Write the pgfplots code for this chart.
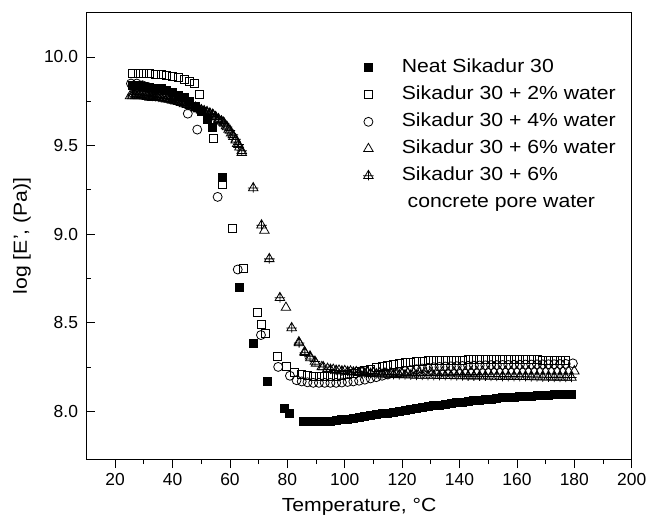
\documentclass[border=0pt]{standalone}
\usepackage{pgfplots}
\pgfplotsset{compat=1.18}
\usepackage{fontspec}
\setmainfont{Liberation Sans}[FakeStretch=1.12]
\newfontfamily\tickfont{Liberation Sans}
\pgfdeclareplotmark{tricross}{%
  \pgfpathmoveto{\pgfqpoint{0pt}{\pgfplotmarksize}}%
  \pgfpathlineto{\pgfqpoint{-0.866\pgfplotmarksize}{-0.5\pgfplotmarksize}}%
  \pgfpathlineto{\pgfqpoint{0.866\pgfplotmarksize}{-0.5\pgfplotmarksize}}%
  \pgfpathclose
  \pgfpathmoveto{\pgfqpoint{-0.95\pgfplotmarksize}{0pt}}%
  \pgfpathlineto{\pgfqpoint{0.95\pgfplotmarksize}{0pt}}%
  \pgfpathmoveto{\pgfqpoint{0pt}{\pgfplotmarksize}}%
  \pgfpathlineto{\pgfqpoint{0pt}{-0.85\pgfplotmarksize}}%
  \pgfusepathqstroke
}
\begin{document}
\begin{tikzpicture}
\begin{axis}[
  scale only axis, width=545.2bp, height=446.3bp,
  xmin=10, xmax=200, ymin=7.73, ymax=10.25,
  xtick={20,40,...,200}, ytick={8,8.5,9,9.5,10},
  minor x tick num=1, minor y tick num=1,
  xtick pos=bottom, ytick pos=left,
  xtick align=outside, ytick align=inside,
  major tick length=9bp, minor tick length=5bp,
  axis line style={line width=1bp},
  every tick/.style={line width=0.8bp, black},
  /pgf/number format/assume math mode=true,
  yticklabel style={/pgf/number format/fixed, /pgf/number format/fixed zerofill, /pgf/number format/precision=1, xshift=-5bp},
  ticklabel style={font=\tickfont\fontsize{17.5}{20}\selectfont},
  xticklabel style={yshift=-2bp},
  label style={font=\fontsize{19}{22}\selectfont},
  xlabel={Temperature, °C}, ylabel={log [E', (Pa)]},
  xlabel style={at={(axis description cs:0.5,-0.1076)}, anchor=center},
  ylabel style={at={(axis description cs:-0.1183,0.5)}, anchor=center},
  legend style={draw=none, fill=none, at={(axis description cs:0.505,0.896)}, anchor=north west,
    font=\fontsize{19}{22}\selectfont, row sep=10bp, inner sep=0pt,
    nodes={inner sep=0pt, text height=13bp, text depth=4bp}},
  legend cell align=left,
  legend image code/.code={\draw[#1] plot coordinates {(0bp,0bp)}; \path (-6bp,0bp) (33bp,0bp);},
  every axis plot/.append style={only marks, black, line width=0.8bp},
]
% Neat Sikadur 30
\addplot[mark=square*, mark size=4bp, fill=black] coordinates {
(26,9.84)(28,9.84)(30,9.835)(32,9.83)(34,9.825)(36,9.82)(38,9.81)(40,9.80)(42,9.785)(44,9.77)(46,9.75)(48,9.72)(50,9.69)(52,9.65)(54,9.60)
(57.2,9.32)(63.2,8.70)(68.0,8.38)(72.9,8.17)(78.9,8.015)(80.7,7.99)
(85.5,7.945)(87,7.94)(89,7.94)(91,7.94)(93,7.942)(95,7.945)(97,7.948)(99,7.952)(101,7.956)(103,7.96)(105,7.965)(107,7.97)(109,7.975)
(111,7.98)(113,7.985)(115,7.99)(117,7.995)(119,8.0)(121,8.005)(123,8.01)(125,8.015)(127,8.02)(129,8.025)(131,8.03)(133,8.035)(135,8.04)
(137,8.044)(139,8.048)(141,8.052)(143,8.056)(145,8.06)(147,8.063)(149,8.066)(151,8.069)(153,8.072)(155,8.075)(157,8.077)(159,8.079)
(161,8.081)(163,8.083)(165,8.085)(167,8.087)(169,8.089)(171,8.09)(173,8.092)(175,8.093)(177,8.094)(179,8.095)
};
\addlegendentry{Neat Sikadur 30}
% 2% water
\addplot[mark=square, mark size=4bp] coordinates {
(26,9.905)(28,9.905)(30,9.905)(32,9.905)(34,9.90)(36,9.90)(38,9.895)(40,9.89)(42,9.885)(44,9.875)(46,9.86)(47.5,9.85)(49.5,9.79)
(54.2,9.54)(57.4,9.28)(60.7,9.03)(64.6,8.805)(69.4,8.56)(70.8,8.49)(72.5,8.44)(76.6,8.31)(79.8,8.255)(82.6,8.22)
(85,8.205)(87,8.20)(89,8.197)(91,8.195)(93,8.195)(95,8.195)(97,8.197)(99,8.20)(101,8.21)(103,8.215)(105,8.222)(107,8.23)(109,8.238)
(111,8.245)(113,8.252)(115,8.259)(117,8.265)(119,8.27)(121,8.275)(123,8.278)(125,8.281)(127,8.283)(129,8.285)(131,8.286)(133,8.287)
(135,8.288)(137,8.288)(139,8.289)(141,8.289)(143,8.29)(145,8.29)(147,8.29)(149,8.29)(151,8.29)(153,8.29)(155,8.29)(157,8.29)
(159,8.29)(161,8.29)(163,8.29)(165,8.29)(167,8.29)(169,8.289)(171,8.289)(173,8.288)(175,8.287)(177,8.286)
};
\addlegendentry{Sikadur 30 + 2\% water}
% 4% water
\addplot[mark=o, mark size=4.5bp] coordinates {
(25.5,9.85)(27.5,9.85)(29.5,9.84)(31.5,9.83)(33.5,9.82)(35.6,9.81)(37.5,9.80)(39.1,9.79)(42,9.75)(45.3,9.68)(48.6,9.59)
(55.7,9.21)(62.7,8.80)(70.8,8.43)(76.8,8.25)(80.9,8.20)(83.2,8.175)
(85,8.168)(87,8.163)(89,8.16)(91,8.16)(93,8.16)(95,8.16)(97,8.16)(99,8.162)(101,8.165)(103,8.168)(105,8.172)(107,8.178)(109,8.185)
(111,8.192)(113,8.20)(115,8.207)(117,8.214)(119,8.22)(121,8.226)(123,8.232)(125,8.237)(127,8.241)(129,8.245)(131,8.248)(133,8.25)
(135,8.252)(137,8.253)(139,8.254)(141,8.255)(143,8.256)(145,8.257)(147,8.258)(149,8.259)(151,8.26)(153,8.26)(155,8.261)(157,8.261)
(159,8.262)(161,8.262)(163,8.263)(165,8.263)(167,8.264)(169,8.264)(171,8.265)(173,8.265)(175,8.266)(177,8.267)(179.5,8.27)
};
\addlegendentry{Sikadur 30 + 4\% water}
% 6% water
\addplot[mark=triangle, mark size=5.5bp] coordinates {
(25.2,9.78)(26,9.78)(27,9.78)(28,9.78)(29,9.78)(30,9.778)(31,9.775)(32,9.772)(33,9.77)(34,9.77)(35,9.77)(36,9.768)(37,9.765)(38,9.762)
(39,9.76)(40,9.755)(41,9.75)(42,9.747)(43,9.742)(44,9.735)(45,9.73)(46,9.725)(47,9.718)(48,9.71)(49,9.705)
(50,9.70)(51,9.692)(52,9.685)(53,9.678)(54.2,9.67)(55,9.66)(56,9.645)(57,9.637)(57.7,9.63)(58.6,9.61)(59.5,9.59)(60.4,9.57)(61.2,9.55)
(62,9.53)(62.5,9.51)(63.3,9.49)(64.1,9.46)
(72.0,9.02)(79.5,8.585)(84,8.39)(86,8.335)(88,8.30)(90,8.27)(92,8.25)(94,8.24)(96,8.235)(98,8.23)(100,8.228)(102,8.225)(104,8.222)
(106,8.22)(108,8.218)(110,8.216)(112,8.215)(114,8.214)(116,8.213)(118,8.213)(120,8.213)(122,8.214)(124,8.215)(126,8.216)(128,8.217)
(130,8.218)(132,8.219)(134,8.22)(136,8.22)(138,8.221)(140,8.222)(142,8.222)(144,8.223)(146,8.223)(148,8.224)(150,8.224)(152,8.225)
(154,8.225)(156,8.225)(158,8.225)(160,8.225)(162,8.226)(164,8.226)(166,8.226)(168,8.226)(170,8.226)(172,8.226)(174,8.226)(176,8.226)
(178,8.226)(180,8.226)
};
\addlegendentry{Sikadur 30 + 6\% water}
% 6% concrete pore water
\addplot[mark=tricross, mark size=5.5bp] coordinates {
(26,9.79)(27,9.79)(28,9.79)(29,9.787)(30,9.785)(31,9.782)(32,9.78)(33,9.777)(34,9.775)(35,9.772)(36,9.77)(37,9.767)(38,9.765)(39,9.762)
(40,9.76)(41,9.755)(42,9.75)(43,9.745)(44,9.74)(45,9.735)(46,9.73)(47,9.722)(48,9.715)(49,9.708)
(50,9.70)(51,9.695)(52,9.69)(53,9.682)(54,9.675)(55,9.662)(56,9.65)(57,9.637)(58,9.625)(59,9.605)(60,9.585)(61,9.56)(62,9.535)(63,9.505)(64.1,9.47)
(68.1,9.26)(71.0,9.05)(73.7,8.86)(77.4,8.64)(81.5,8.47)(84.1,8.385)(86.1,8.33)(87.9,8.31)(89.6,8.28)(92.5,8.25)(95,8.235)(97,8.23)
(99,8.226)(101,8.223)(103,8.22)(105,8.217)(107,8.214)(109,8.212)(111,8.21)(113,8.208)(115,8.207)(117,8.206)(119,8.205)(121,8.204)
(123,8.203)(125,8.202)(127,8.202)(129,8.201)(131,8.201)(133,8.2)(135,8.2)(137,8.2)(139,8.199)(141,8.199)(143,8.198)(145,8.198)
(147,8.197)(149,8.197)(151,8.196)(153,8.196)(155,8.195)(157,8.195)(159,8.195)(161,8.194)(163,8.194)(165,8.193)(167,8.193)
(169,8.192)(171,8.192)(173,8.191)(175,8.191)(177,8.19)(179,8.19)
};
\addlegendentry{Sikadur 30 + 6\%}
\addlegendimage{empty legend}
\addlegendentry{\ concrete pore water}
\end{axis}
\pgfresetboundingbox
\path[use as bounding box] (-86.5bp,-62bp) rectangle (560.5bp,459bp);
\end{tikzpicture}
\end{document}
